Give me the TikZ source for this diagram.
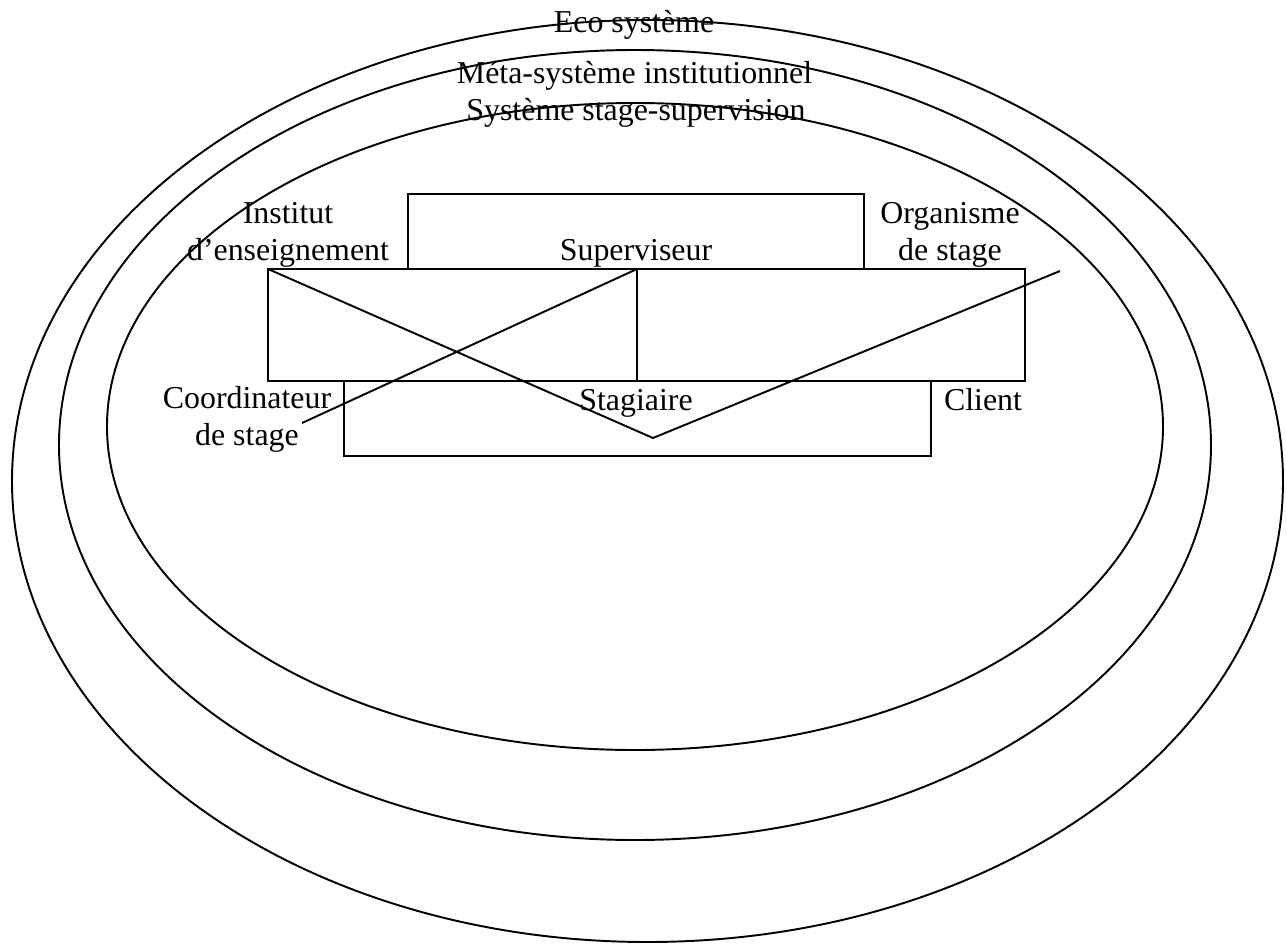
\documentclass[tikz,border=0pt]{standalone}
\usepackage{fontspec}
\setmainfont{Liberation Serif}
\usepackage{tikz}
\usetikzlibrary{positioning}
\tikzstyle{box} = [draw, line width=1.1pt, inner sep=0pt, outer sep=0pt]
\tikzstyle{lbl} = [inner sep=0pt, align=center, font=\fontsize{18.15}{21}\selectfont]
\tikzstyle{link} = [line width=1.1pt]

\begin{document}
\begin{tikzpicture}[x=0.02cm, y=-0.02cm]
\useasboundingbox (0,0) rectangle (1286,944);

% Nested systems
\draw[link] (647.5,481) ellipse [x radius=635.5, y radius=461];
\draw[link] (635,445) ellipse [x radius=576, y radius=395];
\draw[link] (635,426.5) ellipse [x radius=528, y radius=323.5];

\node[lbl, anchor=base] (eco) at (634,32) {Eco système};
\node[lbl, anchor=base] (meta) at (634.5,83) {Méta-système institutionnel};
\node[lbl, anchor=base] (stsup) at (636,120) {Système stage-supervision};

% Boxes
\node[box, minimum width=9.12cm, minimum height=1.5cm] (sup) at (636,231.5) {};
\node[box, minimum width=7.38cm, minimum height=2.24cm] (inst) at (452.5,325) {};
\node[box, minimum width=7.76cm, minimum height=2.24cm] (org) at (831,325) {};
\node[box, minimum width=11.74cm, minimum height=1.5cm] (stag) at (637.5,418.5) {};

% Labels
\node[lbl, anchor=base] (suplbl) at (636,260) {Superviseur};
\node[lbl, anchor=base] (staglbl) at (636,410) {Stagiaire};
\node[lbl, anchor=base] (instlbl) at (288,260) {Institut\\d’enseignement};
\node[lbl, anchor=base] (orglbl) at (950,260) {Organisme\\de stage};
\node[lbl, anchor=base] (coordlbl) at (247,445) {Coordinateur\\de stage};
\node[lbl, anchor=base] (clientlbl) at (983,410) {Client};

% Crossing links
\coordinate (vtip) at (653,438);
\coordinate (orgend) at (1060,271);
\coordinate (coordend) at (302,423);
\draw[link] (inst.north west) -- (vtip) -- (orgend);
\draw[link] (coordend) -- (inst.north east);
\end{tikzpicture}
\end{document}
